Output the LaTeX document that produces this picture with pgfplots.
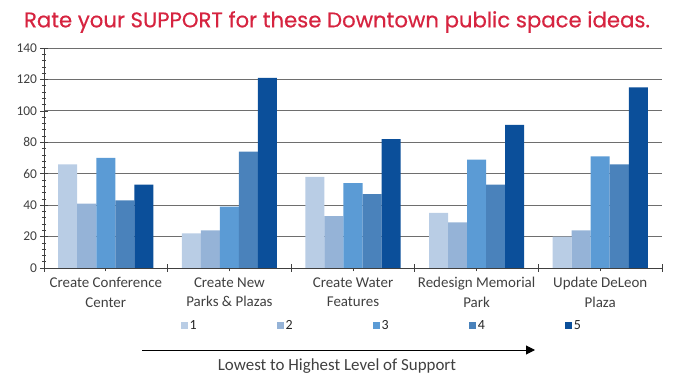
\documentclass[border=0pt]{standalone}
\usepackage{pgfplots}
\pgfplotsset{compat=1.18}
\usepackage{fontspec}
\setmainfont{Carlito}
\newfontfamily\poppins{Poppins}[FakeBold=0.5]
\usetikzlibrary{arrows.meta}
\definecolor{titlered}{RGB}{214,36,64}
\definecolor{cA}{RGB}{185,205,229}
\definecolor{cB}{RGB}{149,179,215}
\definecolor{cC}{RGB}{91,155,213}
\definecolor{cD}{RGB}{74,130,187}
\definecolor{cE}{RGB}{11,79,154}
\definecolor{txt}{RGB}{64,64,64}
\definecolor{gridc}{RGB}{110,110,110}
\begin{document}
\begin{tikzpicture}
\useasboundingbox (0,0) rectangle (673bp,378bp);
\node[text=titlered] at (337bp,356bp) {\poppins\fontsize{21.3}{25}\selectfont Rate your SUPPORT for these Downtown public space ideas.};
\begin{axis}[
  at={(44bp,110bp)}, anchor=south west,
  scale only axis, width=618bp, height=220bp,
  xmin=-0.5, xmax=4.5, ymin=0, ymax=140,
  ybar=0pt, bar width=0.154,
  axis x line*=bottom, axis y line*=left,
  axis line style={black!75, line width=0.8pt},
  ytick={0,20,...,140}, minor y tick num=4,
  ymajorgrids, major grid style={gridc, line width=0.8pt},
  tick align=center,
  major tick length=7bp, minor tick length=4bp,
  tick style={black!75, line width=0.7pt},
  xtick={0,1,2,3,4},
  xticklabels={{Create Conference\\Center},{Create New\\Parks \& Plazas},{Create Water\\Features},{Redesign Memorial\\Park},{Update DeLeon\\Plaza}},
  extra x ticks={-0.5,0.5,1.5,2.5,3.5,4.5},
  extra x tick labels={},
  extra x tick style={grid=none, major tick length=8bp},
  xticklabel style={align=center, font=\fontsize{15}{19.5}\selectfont, text=txt, yshift=-2.5bp},
  yticklabel style={font=\fontsize{13.5}{16}\selectfont, text=txt},
  /pgf/number format/assume math mode=true,
  legend columns=5,
  legend style={at={(0.2215,-0.262)}, anchor=west, draw=none, fill=none, inner sep=0pt,
    font=\fontsize{14}{16}\selectfont, text=black!85,
    nodes={inner sep=1.5bp},
    /tikz/every even column/.append style={column sep=79bp}},
  legend image code/.code={\fill[#1,draw=none] (0bp,-3.5bp) rectangle (7bp,3.5bp);},
]
\addplot[fill=cA, draw=none] coordinates {(0,66) (1,22) (2,58) (3,35) (4,20)};
\addplot[fill=cB, draw=none] coordinates {(0,41) (1,24) (2,33) (3,29) (4,24)};
\addplot[fill=cC, draw=none] coordinates {(0,70) (1,39) (2,54) (3,69) (4,71)};
\addplot[fill=cD, draw=none] coordinates {(0,43) (1,74) (2,47) (3,53) (4,66)};
\addplot[fill=cE, draw=none] coordinates {(0,53) (1,121) (2,82) (3,91) (4,115)};
\legend{1,2,3,4,5}
\end{axis}
\draw[black, line width=1pt, -{Triangle[length=9bp,width=9bp]}] (142bp,28bp) -- (535bp,28bp);
\node[text=txt] at (337bp,12bp) {\fontsize{17}{20}\selectfont Lowest to Highest Level of Support};
\end{tikzpicture}
\end{document}
